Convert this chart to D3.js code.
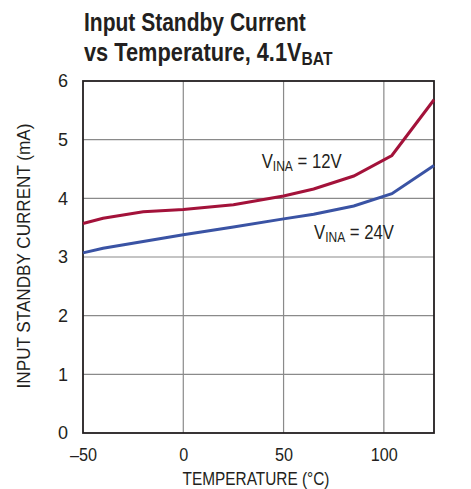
<!DOCTYPE html>
<html>
<head>
<meta charset="utf-8">
<script src="https://cdn.jsdelivr.net/npm/d3@7"></script>
<style>
  body { margin: 0; background: #fff; }
  text { font-family: "Liberation Sans", Arial, sans-serif; fill: #231f20; }
</style>
</head>
<body>
<div id="chart"></div>
<script>
// data
var temps12 = [-50, -40, -20, 0, 25, 50, 65, 85, 104, 125];
var vals12 = [3.57, 3.66, 3.77, 3.81, 3.89, 4.04, 4.16, 4.38, 4.73, 5.68];
var temps24 = [-50, -40, 0, 25, 50, 65, 85, 104, 125];
var vals24 = [3.07, 3.15, 3.38, 3.51, 3.65, 3.73, 3.87, 4.08, 4.56];
var xTicks = [-50, 0, 50, 100];
var yTicks = [0, 1, 2, 3, 4, 5, 6];

var svgWidth = 471;
var svgHeight = 489;
var margin = { top: 81, bottom: 56, right: 37, left: 83 };
var width = svgWidth - margin.left - margin.right;
var height = svgHeight - margin.top - margin.bottom;

var svg = d3.select("#chart")
    .append("svg")
    .attr("width", svgWidth)
    .attr("height", svgHeight);

// squeeze a text horizontally (the original uses a condensed face)
function fitText(sel, w, ox) {
    var bb = sel.node().getBBox();
    var k = w / bb.width;
    if (ox === undefined) ox = bb.x;
    sel.attr("transform", `translate(${ox},0) scale(${k},1) translate(${-ox},0)`);
}

// title
var t1 = svg.append("text")
    .attr("x", 84).attr("y", 31)
    .attr("font-size", 26.5)
    .attr("font-weight", "bold")
    .text("Input Standby Current");
fitText(t1, 222, 84);

var t2 = svg.append("text")
    .attr("x", 84).attr("y", 61)
    .attr("font-size", 26.5)
    .attr("font-weight", "bold");
t2.append("tspan").text("vs Temperature, 4.1V");
t2.append("tspan").attr("font-size", 19).attr("dy", 4).text("BAT");
fitText(t2, 249, 84);

var chartGroup = svg.append("g")
    .attr("transform", `translate(${margin.left}, ${margin.top})`);

var xScale = d3.scaleLinear().domain([-50, 125]).range([0, width]);
var yScale = d3.scaleLinear().domain([0, 6]).range([height, 0]);

// grid
chartGroup.append("g")
    .selectAll("line")
    .data(xTicks.slice(1))
    .enter()
    .append("line")
    .attr("x1", d => xScale(d)).attr("x2", d => xScale(d))
    .attr("y1", 0).attr("y2", height)
    .attr("stroke", "#8a8a8a").attr("stroke-width", 1.2);

chartGroup.append("g")
    .selectAll("line")
    .data(yTicks.slice(1, -1))
    .enter()
    .append("line")
    .attr("x1", 0).attr("x2", width)
    .attr("y1", d => yScale(d)).attr("y2", d => yScale(d))
    .attr("stroke", "#8a8a8a").attr("stroke-width", 1.2);

// frame
chartGroup.append("rect")
    .attr("width", width).attr("height", height)
    .attr("fill", "none").attr("stroke", "#231f20").attr("stroke-width", 1.8);

// axes (labels only)
var xAxis = d3.axisBottom(xScale).tickValues(xTicks).tickSize(0).tickPadding(15)
    .tickFormat(d => d < 0 ? "\u2013" + Math.abs(d) : d);
var yAxis = d3.axisLeft(yScale).tickValues(yTicks).tickSize(0).tickPadding(15)
    .tickFormat(d3.format("d"));

chartGroup.append("g")
    .attr("transform", `translate(0, ${height})`)
    .call(xAxis)
    .call(g => g.select(".domain").remove())
    .selectAll("text").attr("font-size", 18).attr("fill", "#231f20")
    .style("font-family", "'Liberation Sans', Arial, sans-serif")
    .each(function() { fitText(d3.select(this), this.getBBox().width * 0.9, 0); });

chartGroup.append("g")
    .call(yAxis)
    .call(g => g.select(".domain").remove())
    .selectAll("text").attr("font-size", 18).attr("fill", "#231f20")
    .style("font-family", "'Liberation Sans', Arial, sans-serif");

// axis titles
var xTitle = chartGroup.append("text")
    .attr("x", 173)
    .attr("y", height + 52)
    .attr("font-size", 19)
    .style("text-anchor", "middle")
    .text("TEMPERATURE (\u00B0C)");
fitText(xTitle, 147, 173);

var yTitle = chartGroup.append("g")
    .attr("transform", "rotate(-90)")
    .append("text")
    .attr("x", -height / 2 + 1)
    .attr("y", -53)
    .attr("font-size", 18)
    .style("text-anchor", "middle")
    .text("INPUT STANDBY CURRENT (mA)");
fitText(yTitle, 265, -height / 2 + 1);

// lines
var line = d3.line()
    .x(d => xScale(d[0]))
    .y(d => yScale(d[1]));

chartGroup.append("path")
    .datum(d3.zip(temps24, vals24))
    .attr("d", line)
    .attr("fill", "none")
    .attr("stroke", "#3a53a4")
    .attr("stroke-width", 3);

chartGroup.append("path")
    .datum(d3.zip(temps12, vals12))
    .attr("d", line)
    .attr("fill", "none")
    .attr("stroke", "#a3123a")
    .attr("stroke-width", 3);

// series labels
function seriesLabel(x, y, volts) {
    var t = chartGroup.append("text")
        .attr("x", x).attr("y", y)
        .attr("font-size", 19.5);
    t.append("tspan").text("V");
    t.append("tspan").attr("font-size", 14).attr("dy", 3).text("INA");
    t.append("tspan").attr("dy", -3).text(" = " + volts);
    fitText(t, 80, x);
}
seriesLabel(178.7, 87.3, "12V");
seriesLabel(231, 158.3, "24V");
</script>
</body>
</html>
